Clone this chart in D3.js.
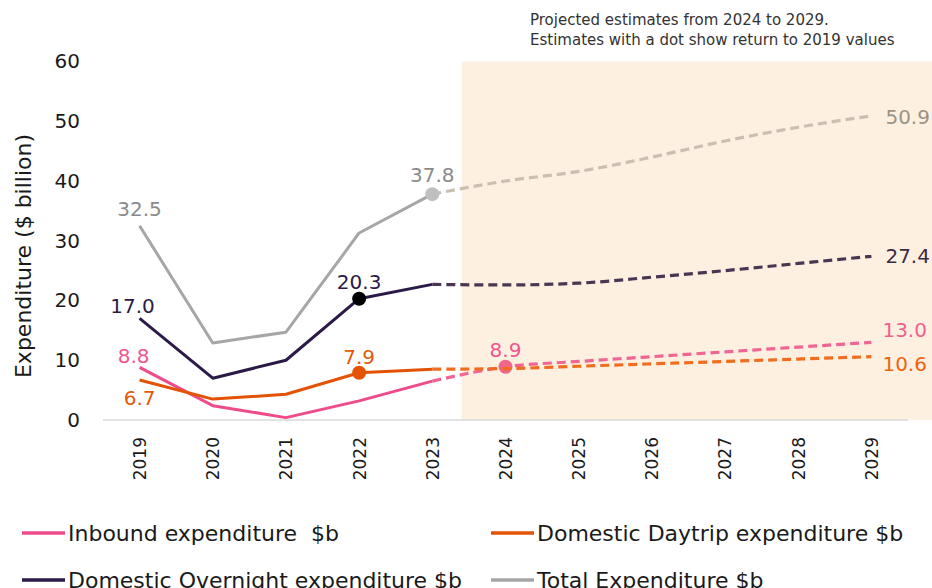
<!DOCTYPE html>
<html>
<head>
    <title>Visitor expenditure projections</title>
    <script src="https://d3js.org/d3.v7.min.js"></script>
    <style>
        body {
            margin: 0;
            background-color: #ffffff;
        }
        svg text {
            font-family: "DejaVu Sans", Verdana, sans-serif;
            white-space: pre;
        }
    </style>
</head>
<body>
    <div id="chart"></div>
    <script>
        // Data ($ billion)
        const years = ['2019', '2020', '2021', '2022', '2023', '2024', '2025', '2026', '2027', '2028', '2029'];
        const inbound   = [8.8, 2.4, 0.4, 3.2, 6.5, 8.9, 9.8, 10.6, 11.4, 12.2, 13.0];
        const daytrip   = [6.7, 3.5, 4.3, 7.9, 8.5, 8.6, 9.0, 9.4, 9.8, 10.2, 10.6];
        const overnight = [17.0, 7.0, 10.0, 20.3, 22.7, 22.6, 22.9, 23.9, 25.0, 26.2, 27.4];
        const total     = [32.5, 12.9, 14.7, 31.3, 37.8, 40.0, 41.6, 44.0, 46.7, 49.0, 50.9];
        const yTicks = [0, 10, 20, 30, 40, 50, 60];
        const lastActual = '2023';

        const series = [
            { name: 'Inbound expenditure  $b', values: inbound, color: '#ee4b8b', dash: '#f06693', dot: '2024', dotColor: '#f0668a', labelColor: '#f0558f' },
            { name: 'Domestic Daytrip expenditure $b', values: daytrip, color: '#e35205', dash: '#f06c1e', dot: '2022', dotColor: '#e35205', labelColor: '#e35a0a' },
            { name: 'Domestic Overnight expenditure $b', values: overnight, color: '#2b1a47', dash: '#4b3652', dot: '2022', dotColor: '#000000', labelColor: '#2b1a47' },
            { name: 'Total Expenditure $b', values: total, color: '#a6a6a6', dash: '#c9bfb2', dot: '2023', dotColor: '#bfbfbf', labelColor: '#8a8a8a' }
        ];

        const width = 932, height = 588;
        const svg = d3.select('#chart').append('svg')
            .attr('width', width)
            .attr('height', height);

        const x = d3.scalePoint().domain(years).range([103, 908]).padding(0.5);
        const y = d3.scaleLinear().domain([0, 60]).range([420, 61.5]);
        const step = x.step();

        // projection shading
        svg.append('rect')
            .attr('x', x(lastActual) + step * 0.4)
            .attr('y', y(60))
            .attr('width', width - (x(lastActual) + step * 0.4))
            .attr('height', y(0) - y(60))
            .attr('fill', '#fdf0e1');

        // baseline
        svg.append('line')
            .attr('x1', 103).attr('x2', 908)
            .attr('y1', y(0)).attr('y2', y(0))
            .attr('stroke', '#d9d9d9')
            .attr('stroke-width', 1.5);

        // y axis
        const yAxis = svg.append('g')
            .attr('transform', 'translate(80,0)')
            .call(d3.axisLeft(y).tickValues(yTicks).tickSize(0).tickPadding(0));
        yAxis.select('.domain').remove();
        yAxis.selectAll('text')
            .attr('font-size', 20)
            .attr('fill', '#1a1a1a');

        svg.append('text')
            .attr('transform', 'translate(31,256) rotate(-90)')
            .attr('text-anchor', 'middle')
            .attr('font-size', 22)
            .attr('fill', '#1a1a1a')
            .text('Expenditure ($ billion)');

        // x axis
        const xAxis = svg.append('g')
            .attr('transform', 'translate(0,' + y(0) + ')')
            .call(d3.axisBottom(x).tickSize(0).tickPadding(0));
        xAxis.select('.domain').remove();
        xAxis.selectAll('text')
            .attr('font-size', 17)
            .attr('fill', '#1a1a1a')
            .attr('text-anchor', 'end')
            .attr('transform', 'translate(0,17) rotate(-90)')
            .attr('dy', '0.35em')
            .attr('y', 0)
            .attr('x', 0);

        // lines
        const solidLine = d3.line()
            .x(d => x(d.year))
            .y(d => y(d.value));
        const dashLine = d3.line()
            .x(d => x(d.year))
            .y(d => y(d.value))
            .curve(d3.curveMonotoneX);

        const split = years.indexOf(lastActual);
        series.forEach(s => {
            const pts = years.map((yr, i) => ({ year: yr, value: s.values[i] }));
            svg.append('path')
                .datum(pts.slice(split))
                .attr('d', dashLine)
                .attr('fill', 'none')
                .attr('stroke', s.dash)
                .attr('stroke-width', 3.2)
                .attr('stroke-dasharray', '9,5');
            svg.append('path')
                .datum(pts.slice(0, split + 1))
                .attr('d', solidLine)
                .attr('fill', 'none')
                .attr('stroke', s.color)
                .attr('stroke-width', 3)
                .attr('stroke-linejoin', 'round');
            const di = years.indexOf(s.dot);
            svg.append('circle')
                .attr('cx', x(s.dot))
                .attr('cy', y(s.values[di]))
                .attr('r', 7)
                .attr('fill', s.dotColor);
        });

        // data labels: [series index, year, dx, dy, anchor, colour override]
        const dataLabels = [
            [3, '2019', 0, -17, 'middle', '#8a8a8a'],
            [3, '2023', 0, -19, 'middle', '#8a8a8a'],
            [2, '2019', -7, -12, 'middle', null],
            [2, '2022', 0, -17, 'middle', null],
            [0, '2019', -6, -11, 'middle', null],
            [0, '2024', 0, -17, 'middle', null],
            [1, '2019', 0, 18, 'middle', null],
            [1, '2022', 0, -16, 'middle', null],
            [3, '2029', 14, 1, 'start', '#9c9285'],
            [2, '2029', 14, 0, 'start', '#3d2b45'],
            [0, '2029', 11, -12, 'start', '#f0608f'],
            [1, '2029', 11, 7, 'start', '#eb6511']
        ];
        svg.append('g').selectAll('text')
            .data(dataLabels)
            .enter()
            .append('text')
            .attr('x', d => x(d[1]) + d[2])
            .attr('y', d => y(series[d[0]].values[years.indexOf(d[1])]) + d[3])
            .attr('dy', '0.35em')
            .attr('text-anchor', d => d[4])
            .attr('font-size', 20)
            .attr('fill', d => d[5] || series[d[0]].labelColor)
            .text(d => series[d[0]].values[years.indexOf(d[1])].toFixed(1));

        // note
        const note = svg.append('text')
            .attr('x', 530)
            .attr('y', 25)
            .attr('font-size', 15)
            .attr('fill', '#333333');
        note.append('tspan').attr('x', 530).text('Projected estimates from 2024 to 2029.');
        note.append('tspan').attr('x', 530).attr('dy', 20).text('Estimates with a dot show return to 2019 values');

        // legend
        const legendPos = [[22, 533], [491, 533], [22, 580], [491, 580]];
        const legend = svg.append('g').selectAll('g')
            .data(series)
            .enter()
            .append('g')
            .attr('transform', (d, i) => 'translate(' + legendPos[i][0] + ',' + legendPos[i][1] + ')');
        legend.append('line')
            .attr('x1', 0).attr('x2', 43)
            .attr('stroke', d => d.color)
            .attr('stroke-width', 3.5);
        legend.append('text')
            .attr('x', 46)
            .attr('dy', '0.35em')
            .attr('font-size', 22)
            .attr('fill', '#1a1a1a')
            .text(d => d.name);
    </script>
</body>
</html>
